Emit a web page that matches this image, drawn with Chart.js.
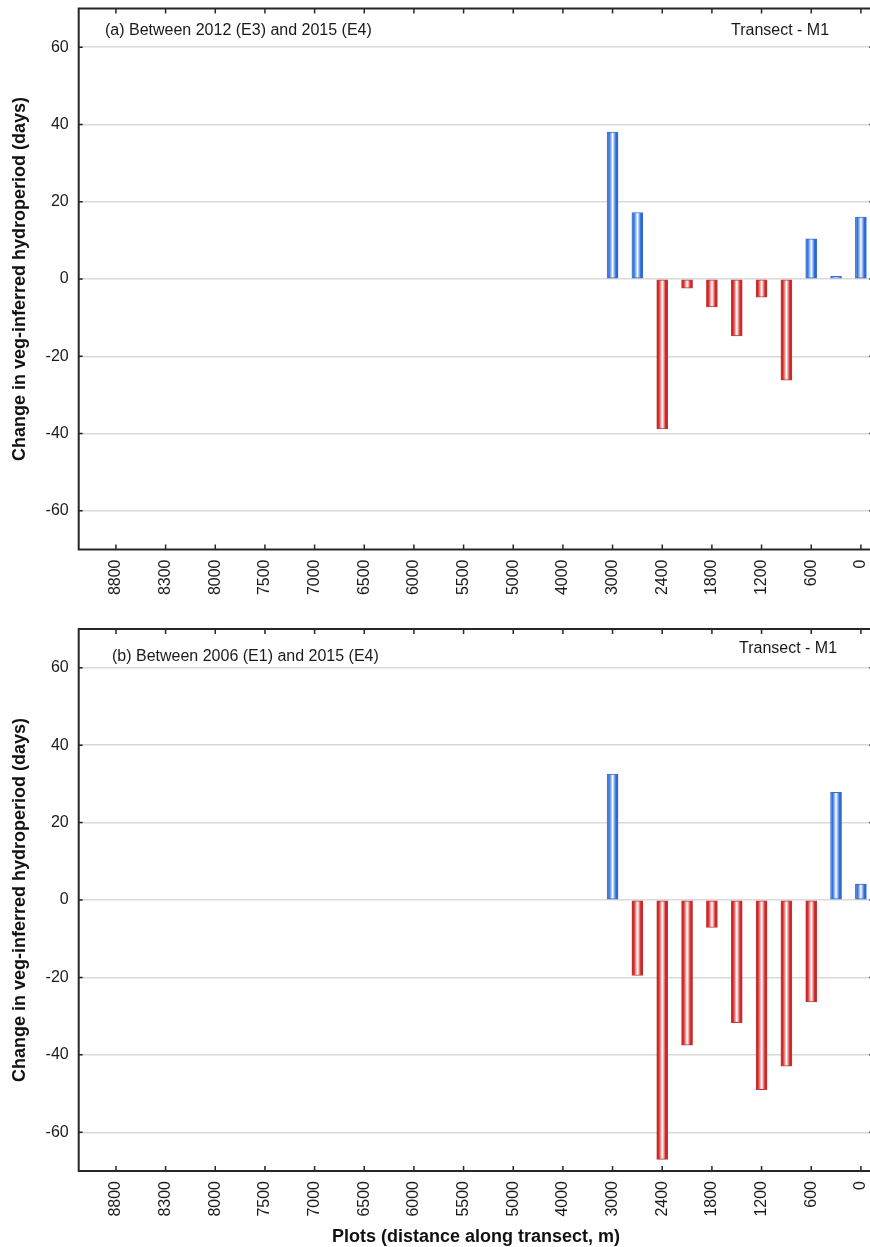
<!DOCTYPE html>
<html>
<head>
<meta charset="utf-8">
<script src="https://cdn.jsdelivr.net/npm/chart.js@4.4.1/dist/chart.umd.min.js"></script>
<style>
  html, body { margin: 0; padding: 0; background: #ffffff; overflow: hidden; width: 870px; height: 1247px; }
  .panel { position: absolute; left: 0; width: 880px; }
  #p1 { top: 0; height: 620px; }
  #p2 { top: 620px; height: 627px; }
</style>
</head>
<body>
<div class="panel" id="p1"><canvas id="c1"></canvas></div>
<div class="panel" id="p2"><canvas id="c2"></canvas></div>
<script>
// Plot positions along the transect (m); only every other one is labelled
const categories = ['9000','8800','8500','8300','8100','8000','7700','7500','7200','7000','6700','6500',
  '6200','6000','5700','5500','5200','5000','4500','4000','3500','3000','2700','2400','2100','1800',
  '1500','1200','900','600','300','0'];

// (a) Between 2012 (E3) and 2015 (E4)
const valuesA = [null,null,null,null,null,null,null,null,null,null,null,null,null,null,null,null,null,null,null,null,null,
  38, 17.2, -38.8, -2.4, -7.2, -14.7, -4.7, -26.2, 10.4, 0.7, 16];

// (b) Between 2006 (E1) and 2015 (E4)
const valuesB = [null,null,null,null,null,null,null,null,null,null,null,null,null,null,null,null,null,null,null,null,null,
  32.5, -19.5, -67, -37.5, -7.1, -31.7, -49, -42.9, -26.3, 27.8, 4.1];

const yTicks = [-60, -40, -20, 0, 20, 40, 60];

const titleA = '(a) Between 2012 (E3) and 2015 (E4)';
const titleB = '(b) Between 2006 (E1) and 2015 (E4)';
const transectLabel = 'Transect - M1';
const yTitle = 'Change in veg-inferred hydroperiod (days)';
const xTitle = 'Plots (distance along transect, m)';

const FONT = '"Liberation Sans", Arial, Helvetica, sans-serif';
const BAR_W = 11;

const blueStops = [[0,'#7aa3ec'],[0.18,'#2f6fdc'],[0.4,'#b3cdf6'],[0.5,'#ffffff'],[0.62,'#a9c6f4'],[0.8,'#2f6fdc'],[1,'#1f58c8']];
const redStops  = [[0,'#c21f1f'],[0.18,'#d52b2b'],[0.4,'#f0b4b4'],[0.5,'#ffffff'],[0.62,'#f0b4b4'],[0.8,'#d52b2b'],[1,'#b71c1c']];

function barFill(context) {
  const chart = context.chart;
  const v = context.raw;
  const stops = (v !== null && v < 0) ? redStops : blueStops;
  if (!chart.chartArea || !chart.scales.x) return stops[1][1];
  const cx = chart.scales.x.getPixelForValue(context.dataIndex);
  const g = chart.ctx.createLinearGradient(cx - BAR_W / 2, 0, cx + BAR_W / 2, 0);
  stops.forEach(s => g.addColorStop(s[0], s[1]));
  return g;
}
function barBorder(context) {
  const v = context.raw;
  return (v !== null && v < 0) ? 'rgba(185,35,35,0.9)' : 'rgba(40,95,200,0.9)';
}

const framePlugin = {
  id: 'frame',
  afterDraw(chart, args, opts) {
    const {ctx, chartArea: a} = chart;
    const x = chart.scales.x, y = chart.scales.y;
    ctx.save();
    ctx.strokeStyle = '#262626';
    ctx.lineWidth = 1.5;
    ctx.beginPath();
    for (let i = 1; i < categories.length; i += 2) {
      const px = x.getPixelForValue(i);
      ctx.moveTo(px, a.bottom); ctx.lineTo(px, a.bottom - 5);
      ctx.moveTo(px, a.top); ctx.lineTo(px, a.top + 5);
    }
    yTicks.forEach(v => {
      const py = y.getPixelForValue(v);
      ctx.moveTo(a.left, py); ctx.lineTo(a.left + 4, py);
      ctx.moveTo(a.right, py); ctx.lineTo(a.right - 4, py);
    });
    ctx.stroke();
    ctx.lineWidth = 2;
    ctx.strokeRect(a.left, a.top, a.right - a.left, a.bottom - a.top);
    ctx.fillStyle = '#1a1a1a';
    ctx.font = '16px ' + FONT;
    ctx.textBaseline = 'alphabetic';
    ctx.textAlign = 'left';
    (opts.texts || []).forEach(t => ctx.fillText(t.text, t.x, t.y));
    ctx.restore();
  }
};

function makeChart(id, values, opts) {
  return new Chart(document.getElementById(id), {
    type: 'bar',
    data: {
      labels: categories,
      datasets: [{
        data: values,
        backgroundColor: barFill,
        borderColor: barBorder,
        borderWidth: 1,
        borderSkipped: false,
        barThickness: BAR_W
      }]
    },
    options: {
      responsive: true,
      maintainAspectRatio: false,
      animation: false,
      events: [],
      layout: { padding: { top: opts.padTop, right: 6.7, left: 0, bottom: 0 } },
      plugins: {
        legend: { display: false },
        tooltip: { enabled: false },
        frame: { texts: opts.texts }
      },
      scales: {
        x: {
          type: 'category',
          offset: true,
          grid: { display: false, drawTicks: false },
          border: { display: false },
          afterFit: s => { s.height = opts.xHeight; s.paddingLeft = 0; s.paddingRight = 0; },
          ticks: {
            autoSkip: false,
            maxRotation: 90,
            minRotation: 90,
            padding: 10,
            color: '#1a1a1a',
            font: { family: FONT, size: 16 },
            callback: (val, idx) => (idx % 2 === 1 ? categories[idx] : '')
          },
          title: {
            display: opts.showXTitle,
            text: xTitle,
            color: '#111',
            font: { family: FONT, size: 18, weight: 'bold', lineHeight: 1 },
            padding: { top: 0, bottom: 1 }
          }
        },
        y: {
          min: -70,
          max: 70,
          afterFit: s => { s.width = 78.7; s.paddingTop = 0; s.paddingBottom = 0; },
          afterBuildTicks: s => { s.ticks = yTicks.map(v => ({ value: v })); },
          grid: { color: '#d9d9d9', lineWidth: 1.5, drawTicks: false },
          border: { display: false },
          ticks: {
            padding: 10,
            color: '#1a1a1a',
            font: { family: FONT, size: 16 }
          },
          title: {
            display: true,
            text: yTitle,
            color: '#111',
            font: { family: FONT, size: 18, weight: 'bold', lineHeight: 1 },
            padding: { top: 11, bottom: 0 }
          }
        }
      }
    },
    plugins: [framePlugin]
  });
}

makeChart('c1', valuesA, {
  padTop: 8.5, xHeight: 70.5, showXTitle: false,
  texts: [{ text: titleA, x: 105, y: 35 }, { text: transectLabel, x: 731, y: 35 }]
});
makeChart('c2', valuesB, {
  padTop: 9, xHeight: 76, showXTitle: true,
  texts: [{ text: titleB, x: 112, y: 41 }, { text: transectLabel, x: 739, y: 33 }]
});
</script>
</body>
</html>
